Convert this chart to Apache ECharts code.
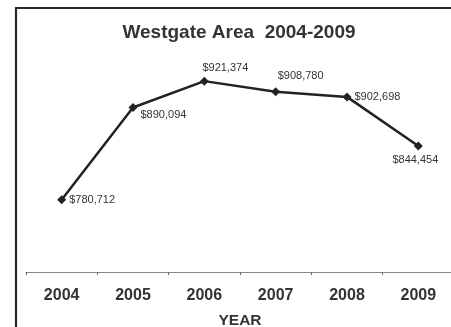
<!DOCTYPE html>
<html>
<head>
<meta charset="utf-8">
<script src="https://cdn.jsdelivr.net/npm/echarts@6/dist/echarts.min.js"></script>
<style>
  html, body { margin: 0; padding: 0; background: #fff; }
  #chart { width: 451px; height: 327px; }
</style>
</head>
<body>
<div id="chart"></div>
<script>
// Median home values by year
const years = ['2004', '2005', '2006', '2007', '2008', '2009'];
const values = [780712, 890094, 921374, 908780, 902698, 844454];
// Where each value label sits relative to its point
const labelPositions = [
  ['right', [0, 0]],
  ['right', [0, 7]],
  ['top', [21, 0]],
  ['top', [25, -3]],
  ['right', [0, 0]],
  ['bottom', [-3, 1]]
];

const fmt = v => '$' + v.toLocaleString('en-US');
const font = 'Liberation Sans, Arial, sans-serif';

const chart = echarts.init(document.getElementById('chart'), null, { renderer: 'canvas' });
chart.setOption({
  animation: false,
  backgroundColor: '#fff',
  textStyle: { fontFamily: font },
  title: {
    text: 'Westgate Area  2004-2009',
    left: 239,
    textAlign: 'center',
    top: 23,
    padding: 0,
    textStyle: { fontSize: 19, fontWeight: 'bold', color: '#333', fontFamily: font }
  },
  graphic: [{
    type: 'rect',
    shape: { x: 16, y: 8, width: 600, height: 500 },
    style: { fill: 'none', stroke: '#2a2a2a', lineWidth: 2.2 },
    silent: true
  }],
  grid: { left: 26, right: -3, top: 57, bottom: 55, outerBoundsMode: 'none', containLabel: false },
  xAxis: {
    type: 'category',
    data: years,
    boundaryGap: true,
    name: 'YEAR',
    nameLocation: 'middle',
    nameGap: 41,
    nameTextStyle: { fontSize: 15.5, fontWeight: 'bold', color: '#333' },
    axisLine: { lineStyle: { color: '#888', width: 1 } },
    axisTick: { show: true, length: 3, lineStyle: { color: '#666' } },
    axisLabel: { fontSize: 16, fontWeight: 'bold', color: '#333', margin: 16 }
  },
  yAxis: {
    type: 'value',
    min: 695000,
    max: 950000,
    show: false,
    splitLine: { show: false }
  },
  series: [{
    type: 'line',
    data: values.map((v, i) => ({
      value: v,
      label: { position: labelPositions[i][0], offset: labelPositions[i][1] }
    })),
    symbol: 'diamond',
    symbolSize: 9,
    lineStyle: { color: '#222', width: 2.5 },
    itemStyle: { color: '#222' },
    label: {
      show: true,
      formatter: p => fmt(p.value),
      fontSize: 11,
      color: '#333',
      distance: 3
    }
  }]
});
</script>
</body>
</html>
